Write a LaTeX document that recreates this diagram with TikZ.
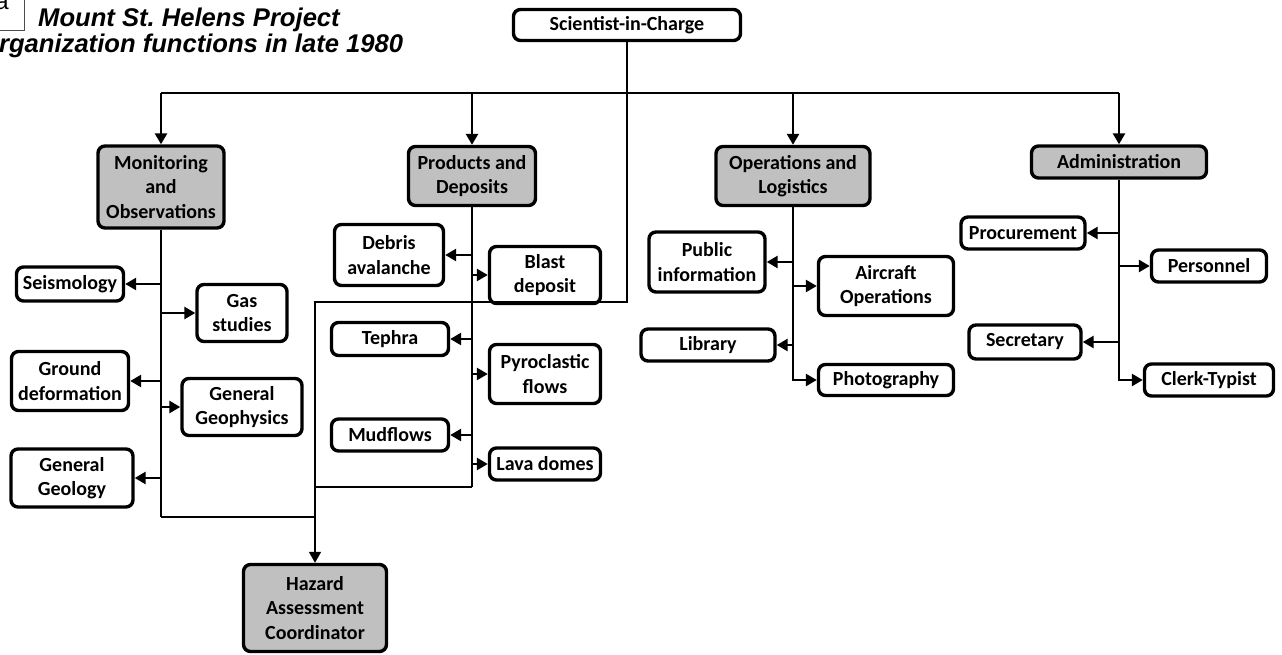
\documentclass[tikz,border=0pt]{standalone}
\usepackage{fontspec}
\setmainfont{Carlito}
\newfontfamily\titlefont{Liberation Sans}
\usetikzlibrary{arrows.meta}
\definecolor{negre}{HTML}{000000}
\definecolor{grisos}{HTML}{C0C0C0}
\tikzset{
  box/.style={draw=negre, line width=3.4pt, rounded corners=7pt, fill=white,
    align=center, inner sep=1pt, font=\fontsize{20}{24.5}\selectfont\bfseries},
  head/.style={box, fill=grisos},
  bus/.style={draw=negre, line width=2.6pt},
  link/.style={bus, -{Triangle[length=11pt,width=12pt]}},
  feed/.style={draw=negre, line width=1.6pt},
  titol/.style={font=\titlefont\fontsize{25.6}{27}\selectfont\bfseries\itshape, inner sep=0pt},
}

\begin{document}
\frenchspacing
\begin{tikzpicture}[x=1pt,y=-1pt]
  \useasboundingbox (0,0) rectangle (1282,655);
  \clip (0,0) rectangle (1282,655);

  % Títol i etiqueta del quadre.
  \draw[negre!70, line width=.8pt] (-14,-14) rectangle (24.5,30);
  \node[font=\titlefont\fontsize{24}{24}\selectfont, inner sep=0pt, anchor=base] (lletra) at (2,10) {a};
  \node[titol, anchor=base west] (titol1) at (38,27) {Mount St. Helens Project};
  \node[titol, anchor=base west] (titol2) at (-21,53) {Organization functions in late 1980};

  % Caps i seccions.
  \node[box, minimum width=227pt, minimum height=31pt] (sci) at (627,25) {Scientist-in-Charge};
  \node[head, minimum width=126pt, minimum height=82pt] (mon) at (161,187) {Monitoring\\and\\Observations};
  \node[head, minimum width=127pt, minimum height=59pt] (prod) at (472,176) {Products and\\Deposits};
  \node[head, minimum width=154pt, minimum height=59pt] (ops) at (793,176) {Operations and\\Logistics};
  \node[head, minimum width=175pt, minimum height=32pt] (adm) at (1119,162) {Administration};
  \node[head, minimum width=143pt, minimum height=87pt] (haz) at (315,608) {Hazard\\Assessment\\Coordinator};

  % Monitoratge.
  \node[box, minimum width=107pt, minimum height=34pt] (seis) at (70,284) {Seismology};
  \node[box, minimum width=90pt, minimum height=57pt] (gas) at (242,313) {Gas\\studies};
  \node[box, minimum width=117pt, minimum height=59pt] (ground) at (70,381) {Ground\\deformation};
  \node[box, minimum width=120pt, minimum height=57pt] (geof) at (242,407) {General\\Geophysics};
  \node[box, minimum width=122pt, minimum height=58pt] (geol) at (72,478) {General\\Geology};

  % Productes i dipòsits.
  \node[box, minimum width=109pt, minimum height=61pt] (debris) at (389,255) {Debris\\avalanche};
  \node[box, minimum width=111pt, minimum height=57pt] (blast) at (545,275) {Blast\\deposit};
  \node[box, minimum width=117pt, minimum height=33pt] (tephra) at (390,339) {Tephra};
  \node[box, minimum width=111pt, minimum height=59pt] (pyro) at (545,374) {Pyroclastic\\flows};
  \node[box, minimum width=117pt, minimum height=32pt] (mud) at (390,435) {Mudflows};
  \node[box, minimum width=111pt, minimum height=32pt] (lava) at (545,464) {Lava domes};

  % Operacions.
  \node[box, minimum width=116pt, minimum height=60pt] (pub) at (707,262) {Public\\information};
  \node[box, minimum width=135pt, minimum height=59pt] (air) at (886,286) {Aircraft\\Operations};
  \node[box, minimum width=134pt, minimum height=32pt] (lib) at (708,345) {Library};
  \node[box, minimum width=135pt, minimum height=31pt] (photo) at (886,380) {Photography};

  % Administració.
  \node[box, minimum width=124pt, minimum height=32pt] (proc) at (1023,233) {Procurement};
  \node[box, minimum width=115pt, minimum height=32pt] (pers) at (1209,266) {Personnel};
  \node[box, minimum width=112pt, minimum height=34pt] (sec) at (1025,342) {Secretary};
  \node[box, minimum width=129pt, minimum height=32pt] (clerk) at (1209,380) {Clerk-Typist};

  % Bus superior i fletxes cap a les seccions.
  \draw[bus] (sci.south) -- (sci.south |- 0,93);
  \draw[bus] (mon.north |- 0,93) -- (adm.north |- 0,93);
  \foreach \cap in {mon,prod,ops,adm}
    \draw[link] (\cap.north |- 0,93) -- (\cap.north);

  % Enllaç cap al coordinador.
  \draw[feed] (sci.south |- 0,93) -- (sci.south |- 0,302) -| (haz.north |- 0,520);
  \draw[feed, -{Triangle[length=11pt,width=12pt]}] (haz.north |- 0,520) -- (haz.north);
  \draw[feed] (mon.south |- 0,517) -- (haz.north |- 0,517);
  \draw[feed] (prod.south |- 0,487) -- (haz.north |- 0,487);

  % Troncs de cada secció.
  \draw[bus] (mon.south) -- (mon.south |- 0,517);
  \draw[bus] (prod.south) -- (prod.south |- 0,487);
  \draw[link] (ops.south) |- (photo);
  \draw[link] (adm.south) |- (clerk);

  % Branques.
  \foreach \fulla in {seis,gas,ground,geof,geol}
    \draw[link] (mon.south |- \fulla) -- (\fulla);
  \foreach \fulla in {debris,blast,tephra,pyro,mud,lava}
    \draw[link] (prod.south |- \fulla) -- (\fulla);
  \foreach \fulla in {pub,air,lib}
    \draw[link] (ops.south |- \fulla) -- (\fulla);
  \foreach \fulla in {proc,pers,sec}
    \draw[link] (adm.south |- \fulla) -- (\fulla);
\end{tikzpicture}
\end{document}
